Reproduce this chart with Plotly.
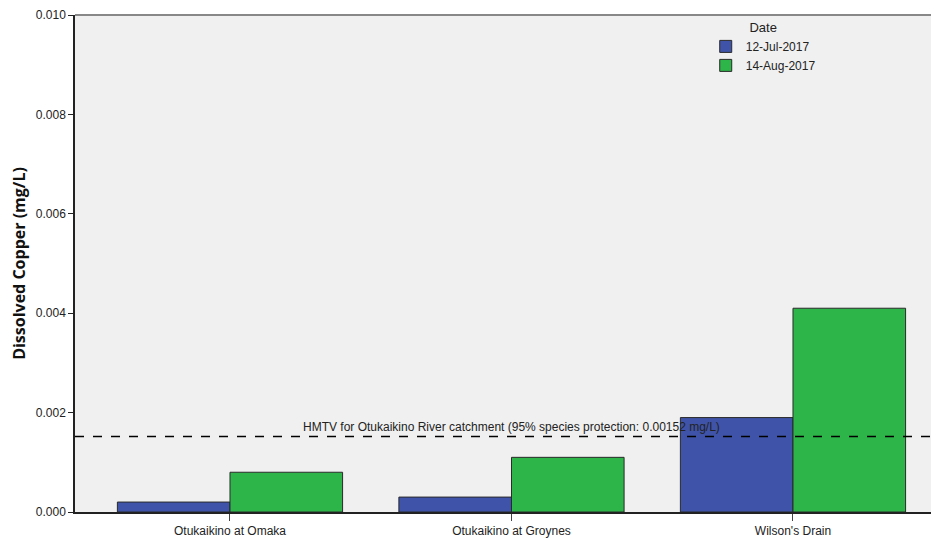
import plotly.graph_objects as go

sites = ["Otukaikino at Omaka", "Otukaikino at Groynes", "Wilson's Drain"]
jul_2017 = [0.0002, 0.0003, 0.0019]
aug_2017 = [0.0008, 0.0011, 0.0041]
hmtv = 0.00152
y_ticks = [0.000, 0.002, 0.004, 0.006, 0.008, 0.010]

fig = go.Figure()
fig.add_trace(go.Bar(x=sites, y=jul_2017, name="12-Jul-2017",
                     marker=dict(color="#3f54a9", line=dict(color="#2a2a2a", width=1))))
fig.add_trace(go.Bar(x=sites, y=aug_2017, name="14-Aug-2017",
                     marker=dict(color="#2eb54a", line=dict(color="#2a2a2a", width=1))))

fig.add_shape(type="line", xref="paper", yref="y", x0=0, x1=1, y0=hmtv, y1=hmtv,
              line=dict(color="black", width=1.5, dash="dash"))
fig.add_annotation(x=1, xref="x", y=hmtv, yref="y", yanchor="bottom", yshift=0,
                   text="HMTV for Otukaikino River catchment (95% species protection: 0.00152 mg/L)",
                   showarrow=False, font=dict(size=12, color="#222222", family="Liberation Sans"))
fig.add_shape(type="line", xref="paper", yref="paper", x0=0, x1=1, y0=1, y1=1,
              line=dict(color="#888888", width=2))

fig.update_layout(
    width=931, height=530,
    margin=dict(l=67, r=0, t=4, b=26),
    paper_bgcolor="white", plot_bgcolor="#f0f0f0",
    barmode="group", bargap=0.2, bargroupgap=0,
    font=dict(family="Liberation Sans", size=12, color="#222222"),
    showlegend=True,
    legend=dict(title=dict(text="Date", side="top center", font=dict(size=13)),
                x=0.73, xanchor="left", y=1.0, yanchor="top",
                bgcolor="rgba(0,0,0,0)", font=dict(size=12),
                itemwidth=30, tracegroupgap=0),
    xaxis=dict(range=[-0.5506, 2.5187], showgrid=False, showline=True, linecolor="#222222",
               linewidth=1.5, ticks="outside", ticklen=7, tickcolor="#444444",
               tickfont=dict(size=12)),
    yaxis=dict(range=[0, 0.010], tickvals=y_ticks, ticktext=[f"{v:.3f}" for v in y_ticks],
               ticklabeloverflow="allow",
               showgrid=False, zeroline=False, showline=True, linecolor="#222222", linewidth=1.5,
               ticks="outside", ticklen=5, tickcolor="#222222", tickfont=dict(size=12),
               title=dict(text="<b>Dissolved Copper (mg/L)</b>", standoff=10,
                          font=dict(family="Open Sans", size=16, color="#111111"))),
)
fig.write_html("out.html")
